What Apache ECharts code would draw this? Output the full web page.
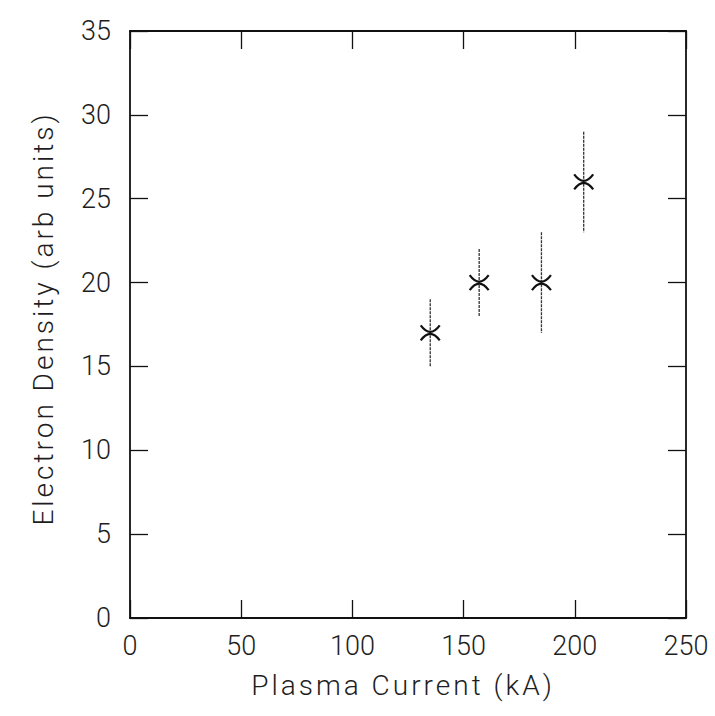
<!DOCTYPE html>
<html>
<head>
<meta charset="utf-8">
<title>Electron Density vs Plasma Current</title>
<script src="https://cdn.jsdelivr.net/npm/echarts@6/dist/echarts.min.js"></script>
<style>
  html, body { margin: 0; padding: 0; background: #ffffff; }
  #chart { width: 715px; height: 716px; }
</style>
</head>
<body>
<div id="chart"></div>
<script>
// Measurements: plasma current (kA) against electron density (arb units)
const currents = [135, 157, 185, 204];
const densities = [17, 20, 20, 26];
const densityLow = [15, 18, 17, 23];
const densityHigh = [19, 22, 23, 29];

const xTicks = [0, 50, 100, 150, 200, 250];
const yTicks = [0, 5, 10, 15, 20, 25, 30, 35];

const xTitle = 'Plasma Current (kA)';
const yTitle = 'Electron Density (arb units)';

const INK = '#111111';
const TEXT = '#1e1e1e';
const FONT = "Roboto, 'Liberation Sans', sans-serif";

const points = currents.map((c, i) => [c, densities[i], densityLow[i], densityHigh[i]]);

// Error bar plus a curved "x" marker at each measurement
function drawPoint(params, api) {
  const c = api.value(0);
  const p = api.coord([c, api.value(1)]);
  const lo = api.coord([c, api.value(2)]);
  const hi = api.coord([c, api.value(3)]);
  const w = 9.5, h = 7.5;
  const upper = 'M' + (p[0] - w) + ',' + (p[1] - h) +
    ' Q' + p[0] + ',' + (p[1] + h - 2) + ' ' + (p[0] + w) + ',' + (p[1] - h);
  const lower = 'M' + (p[0] - w) + ',' + (p[1] + h) +
    ' Q' + p[0] + ',' + (p[1] - h + 2) + ' ' + (p[0] + w) + ',' + (p[1] + h);
  return {
    type: 'group',
    children: [
      {
        type: 'line',
        shape: { x1: hi[0], y1: hi[1], x2: lo[0], y2: lo[1] },
        style: { stroke: '#333333', lineWidth: 1.3, lineDash: [3, 1] }
      },
      {
        type: 'path',
        shape: { pathData: upper + ' ' + lower },
        style: { stroke: INK, lineWidth: 2.2, fill: null }
      }
    ]
  };
}

const tickCommon = { show: true, inside: true, length: 18, lineStyle: { color: INK, width: 1.3 } };
const lineCommon = { show: true, onZero: false, lineStyle: { color: INK, width: 1.8 } };
const labelCommon = { fontFamily: FONT, fontSize: 27, color: TEXT, fontWeight: 300 };
const nameCommon = { fontFamily: FONT, fontSize: 28, color: TEXT, fontWeight: 300 };

const chart = echarts.init(document.getElementById('chart'), null, { renderer: 'svg' });
chart.setOption({
  animation: false,
  backgroundColor: '#ffffff',
  grid: { left: 130, right: 29, top: 31, bottom: 98, containLabel: false },
  xAxis: [
    {
      type: 'value',
      position: 'bottom',
      min: xTicks[0],
      max: xTicks[xTicks.length - 1],
      interval: 50,
      name: xTitle,
      nameLocation: 'middle',
      nameGap: 53,
      nameTextStyle: Object.assign({ padding: [0, 10, 0, 0] }, nameCommon),
      axisLine: lineCommon,
      axisTick: tickCommon,
      axisLabel: Object.assign({ margin: 14 }, labelCommon),
      splitLine: { show: false }
    },
    {
      type: 'value',
      position: 'top',
      min: xTicks[0],
      max: xTicks[xTicks.length - 1],
      interval: 50,
      axisLine: lineCommon,
      axisTick: tickCommon,
      axisLabel: { show: false },
      splitLine: { show: false }
    }
  ],
  yAxis: [
    {
      type: 'value',
      position: 'left',
      min: yTicks[0],
      max: yTicks[yTicks.length - 1],
      interval: 5,
      name: yTitle,
      nameLocation: 'middle',
      nameGap: 73,
      nameTextStyle: Object.assign({ padding: [0, 0, 0, 12] }, nameCommon),
      axisLine: lineCommon,
      axisTick: tickCommon,
      axisLabel: Object.assign({ margin: 19 }, labelCommon),
      splitLine: { show: false }
    },
    {
      type: 'value',
      position: 'right',
      min: yTicks[0],
      max: yTicks[yTicks.length - 1],
      interval: 5,
      axisLine: lineCommon,
      axisTick: tickCommon,
      axisLabel: { show: false },
      splitLine: { show: false }
    }
  ],
  series: [
    {
      type: 'custom',
      xAxisIndex: 0,
      yAxisIndex: 0,
      renderItem: drawPoint,
      encode: { x: 0, y: [1, 2, 3] },
      data: points,
      clip: false
    }
  ]
});

// The axis titles are set with wide letter spacing
const titleSpacing = {};
titleSpacing[xTitle] = '3px';
titleSpacing[yTitle] = '3px';
function spaceTitles() {
  document.querySelectorAll('#chart text').forEach(function (t) {
    const s = titleSpacing[t.textContent];
    if (s) t.setAttribute('letter-spacing', s);
  });
}
spaceTitles();
chart.on('finished', spaceTitles);
</script>
</body>
</html>
